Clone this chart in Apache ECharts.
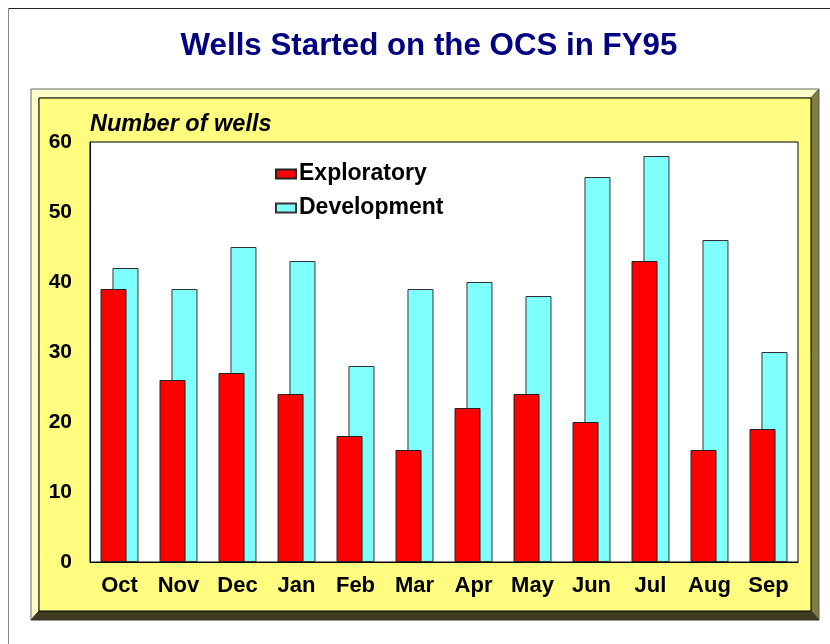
<!DOCTYPE html>
<html>
<head>
<meta charset="utf-8">
<script src="https://cdn.jsdelivr.net/npm/echarts@6/dist/echarts.min.js"></script>
<style>
html,body{margin:0;padding:0;background:#fff;}
#c{width:830px;height:644px;}
</style>
</head>
<body>
<div id="c"></div>
<script>
var categories = ['Oct','Nov','Dec','Jan','Feb','Mar','Apr','May','Jun','Jul','Aug','Sep'];
var exploratory = [39,26,27,24,18,16,22,24,20,43,16,19];
var development = [42,39,45,43,28,39,40,38,55,58,46,30];
var yTicks = [0,10,20,30,40,50,60];

var chart = echarts.init(document.getElementById('c'), null, {renderer:'canvas'});
var font = 'Arial, "Liberation Sans", Helvetica, sans-serif';
chart.setOption({
  backgroundColor:'#ffffff',
  animation:false,
  textStyle:{fontFamily:font},
  title:{
    text:'Wells Started on the OCS in FY95',
    left:424, top:26, textAlign:'center',
    textStyle:{color:'#000080', fontSize:31.3, fontWeight:'bold', fontFamily:font}
  },
  graphic:[
    {type:'line', z:-10, shape:{x1:8,y1:8.5,x2:830,y2:8.5}, style:{stroke:'#222',lineWidth:1}},
    {type:'line', z:-10, shape:{x1:8.5,y1:8,x2:8.5,y2:644}, style:{stroke:'#888',lineWidth:1}},
    {type:'polygon', z:-10, shape:{points:[[31,89],[819,89],[811,98],[39,98],[39,611],[31,620]]}, style:{fill:'#FFFFC8',stroke:'#666',lineWidth:1}},
    {type:'polygon', z:-10, shape:{points:[[819,89],[819,620],[811,611],[811,98]]}, style:{fill:'#807D40',stroke:'#555',lineWidth:1}},
    {type:'polygon', z:-10, shape:{points:[[31,620],[819,620],[811,611],[39,611]]}, style:{fill:'#403C20',stroke:'#333',lineWidth:1}},
    {type:'rect', z:-9, shape:{x:39,y:98,width:772,height:513}, style:{fill:'#FFFC80',stroke:'#000',lineWidth:1}}
  ],
  legend:{
    orient:'vertical', left:275, top:162, padding:0, itemWidth:20, itemHeight:9, itemGap:10,
    icon:'rect',
    data:['Exploratory','Development'],
    textStyle:{fontSize:23, fontWeight:'bold', color:'#000', fontFamily:font, lineHeight:24, padding:[0,0,0,-2]}
  },
  grid:{left:90, top:142, right:32, bottom:82, show:true, backgroundColor:'#ffffff', borderColor:'#000', borderWidth:1},
  xAxis:{
    type:'category', data:categories,
    axisLine:{show:true, lineStyle:{color:'#000'}},
    axisTick:{show:false},
    axisLabel:{fontSize:22, fontWeight:'bold', color:'#000', margin:13, fontFamily:font}
  },
  yAxis:{
    type:'value', min:0, max:60, interval:10,
    name:'Number of wells', nameLocation:'end', nameGap:6,
    nameTextStyle:{align:'left', verticalAlign:'bottom', fontSize:23.5, fontStyle:'italic', fontWeight:'bold', color:'#000', fontFamily:font, padding:[0,0,0,0]},
    axisLine:{show:true, lineStyle:{color:'#000'}},
    axisTick:{show:false},
    splitLine:{show:false},
    axisLabel:{fontSize:21, fontWeight:'bold', color:'#000', margin:18, fontFamily:font,
      formatter:function(v){ return yTicks.indexOf(v)>=0 ? String(v) : ''; }}
  },
  series:[
    {name:'Exploratory', type:'bar', data:exploratory, barWidth:26, barGap:'-54%', z:3,
      itemStyle:{color:'#FF0000', borderColor:'#222', borderWidth:1}},
    {name:'Development', type:'bar', data:development, barWidth:26, barGap:'-54%', z:2,
      itemStyle:{color:'#80FFFF', borderColor:'#333', borderWidth:1}}
  ]
});
</script>
</body>
</html>
